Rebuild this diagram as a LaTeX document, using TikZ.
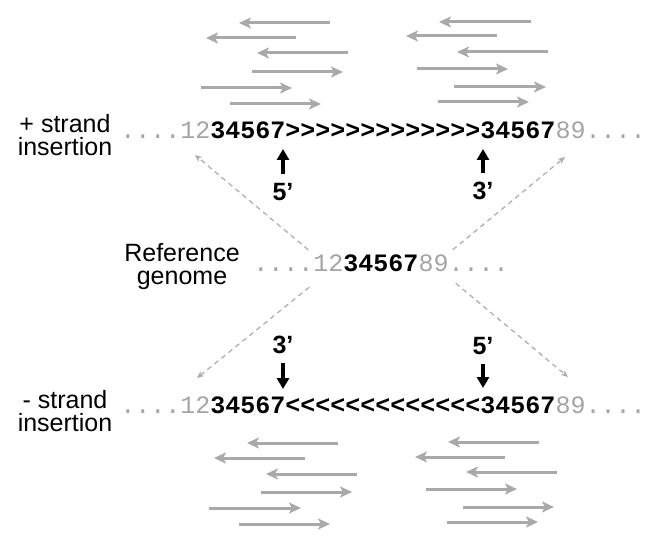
\documentclass[tikz,border=0pt]{standalone}
\usepackage{fontspec}
\setmainfont{Liberation Sans}
\setmonofont{Liberation Mono}
\usetikzlibrary{arrows.meta,calc}

\definecolor{readgray}{HTML}{A9A9A9}
\definecolor{seqgray}{HTML}{A4A4A4}
\definecolor{dashgray}{HTML}{ABABAB}
\newcommand{\grseq}[1]{\textcolor{seqgray}{#1}}

\tikzset{
  readarrow/.style={draw=readgray, line width=3bp, -{Stealth[length=12bp,width=11bp,inset=3bp]}},
  strandarrow/.style={draw=black, line width=4bp, -{Triangle[length=11bp,width=12bp]}},
  guidearrow/.style={draw=dashgray, line width=1.2bp, dash pattern=on 5bp off 4bp, -{Stealth[length=7bp,width=6bp]}},
  seqline/.style={inner sep=0pt, anchor=base, text height=16bp, text depth=0bp,
    font=\ttfamily\fontsize{25bp}{25bp}\selectfont},
  strandlabel/.style={inner sep=0pt, align=center, font=\fontsize{25bp}{23bp}\selectfont},
  endlabel/.style={inner sep=0pt, outer sep=9bp, font=\bfseries\fontsize{25bp}{25bp}\selectfont},
}

\begin{document}
\begin{tikzpicture}[x=1bp, y=-1bp]
    \useasboundingbox (0,0) rectangle (658,547);

    % Szekvenciák
    \node[seqline] (plusseq)  at (383,139) {\grseq{....12}\textbf{34567>>>>>>>>>>>>>34567}\grseq{89....}};
    \node[seqline] (refseq)   at (381,271) {\grseq{....12}\textbf{34567}\grseq{89....}};
    \node[seqline] (minusseq) at (383,413) {\grseq{....12}\textbf{34567<<<<<<<<<<<<<34567}\grseq{89....}};

    % Feliratok bal oldalt
    \node[strandlabel] (pluslabel)  at (65,135.5) {+ strand\\insertion};
    \node[strandlabel] (reflabel)   at (182,267)  {Reference\\genome};
    \node[strandlabel] (minuslabel) at (65,411.5) {- strand\\insertion};

    % 5' es 3' vegek
    \node[endlabel] (p5) at (283,192) {5’};
    \node[endlabel] (p3) at (483,191) {3’};
    \node[endlabel] (m3) at (283,345) {3’};
    \node[endlabel] (m5) at (483,346) {5’};
    \coordinate (p5tip) at (283,149);
    \coordinate (p3tip) at (483,149);
    \coordinate (m3tip) at (283,389);
    \coordinate (m5tip) at (483,388);
    \draw[strandarrow] (p5) -- (p5tip);
    \draw[strandarrow] (p3) -- (p3tip);
    \draw[strandarrow] (m3) -- (m3tip);
    \draw[strandarrow] (m5) -- (m5tip);

    % Szaggatott nyilak a referenciatol
    \coordinate (ultip) at (195,155);
    \coordinate (urtip) at (565,157);
    \coordinate (lltip) at (197,378);
    \coordinate (lrtip) at (568,377);
    \draw[guidearrow] ([xshift=55bp,yshift=5bp]refseq.north west) -- (ultip);
    \draw[guidearrow] ([xshift=-56bp,yshift=5bp]refseq.north east) -- (urtip);
    \draw[guidearrow] ([xshift=56bp,yshift=-16bp]refseq.south west) -- (lltip);
    \draw[guidearrow] ([xshift=-53bp,yshift=-12bp]refseq.south east) -- (lrtip);

    % Olvasatok felul
    \foreach \xa/\xb/\yy in {330/239/23, 296/206/38, 348/257/53, 252/343/72, 201/292/88, 230/321/104,
                             531/439/22, 497/406/36, 548/457/52, 417/508/69, 454/546/87, 438/529/102}
        \draw[readarrow] (\xa,\yy) -- (\xb,\yy);

    % Olvasatok alul
    \foreach \xa/\xb/\yy in {338/247/443, 305/214/458, 357/266/474, 261/352/492, 209/301/508, 239/330/524,
                             539/448/442, 505/415/457, 557/466/472, 426/517/489, 463/554/507, 447/538/522}
        \draw[readarrow] (\xa,\yy) -- (\xb,\yy);
\end{tikzpicture}
\end{document}
